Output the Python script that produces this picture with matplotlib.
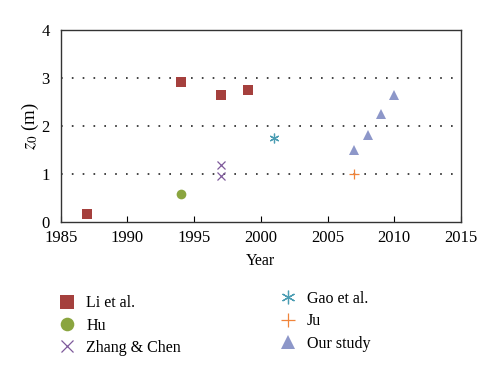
import matplotlib
matplotlib.use("Agg")
import matplotlib.pyplot as plt

plt.rcParams['font.family'] = ['Liberation Serif', 'DejaVu Serif']
plt.rcParams['mathtext.fontset'] = 'stix'

li_x = [1987, 1994, 1997, 1999]
li_y = [0.15, 2.92, 2.65, 2.75]
hu_x = [1994]
hu_y = [0.57]
zc_x = [1997, 1997]
zc_y = [1.18, 0.95]
gao_x = [2001]
gao_y = [1.75]
ju_x = [2007]
ju_y = [1.0]
our_x = [2007, 2008, 2009, 2010]
our_y = [1.50, 1.82, 2.24, 2.65]

xticks = [1985, 1990, 1995, 2000, 2005, 2010, 2015]
yticks = [0, 1, 2, 3, 4]

c_li = '#A5403D'
c_hu = '#8AA53F'
c_zc = '#7E5A9B'
c_gao = '#4B9DB3'
c_ju = '#F0843A'
c_our = '#8D97C9'

fig = plt.figure(figsize=(5.0, 3.77), dpi=100)
ax = fig.add_axes([0.1214, 0.412, 0.8006, 0.508])

styles = [
    (li_x, li_y, dict(marker='s', color=c_li, markersize=6.7, mew=0), 'Li et al.'),
    (hu_x, hu_y, dict(marker='o', color=c_hu, markersize=7, mew=0), 'Hu'),
    (zc_x, zc_y, dict(marker='x', color=c_zc, markersize=6.3, mew=0.9), 'Zhang & Chen'),
    (gao_x, gao_y, dict(marker=(6, 2, 0), color=c_gao, markersize=7, mew=0.9), 'Gao et al.'),
    (ju_x, ju_y, dict(marker='+', color=c_ju, markersize=7, mew=0.9), 'Ju'),
    (our_x, our_y, dict(marker='^', color=c_our, markersize=7.5, mew=0), 'Our study'),
]
handles = []
for xs, ys, kw, lab in styles:
    h, = ax.plot(xs, ys, linestyle='none', label=lab, **kw)
    handles.append(h)

ax.set_xlim(1985, 2015)
ax.set_ylim(0, 4)
ax.set_xticks(xticks)
ax.set_yticks(yticks)
for y in [1, 2, 3]:
    ax.axhline(y, color='#222222', lw=1.2, linestyle=(0, (1, 5.5)), zorder=0)
ax.tick_params(axis='x', direction='in', length=4, width=0.8, labelsize=12, pad=6)
ax.tick_params(axis='y', length=0, labelsize=12, pad=8)
for s in ax.spines.values():
    s.set_color('#333333')
    s.set_linewidth(1.0)
ax.set_xlabel('Year', fontsize=11.5, labelpad=5)
ax.set_ylabel(r'$z_0$ (m)', fontsize=13.5, labelpad=0)

common = dict(loc='upper left', frameon=False, fontsize=11.5, handlelength=1.2,
              handletextpad=0.6, labelspacing=0.4, borderaxespad=0, borderpad=0,
              markerscale=1.4)
leg1 = fig.legend(handles=handles[:3], bbox_to_anchor=(0.115, 0.217), **common)
leg2 = fig.legend(handles=handles[3:], bbox_to_anchor=(0.556, 0.228), **common)

fig.savefig('out.png', dpi=100)
